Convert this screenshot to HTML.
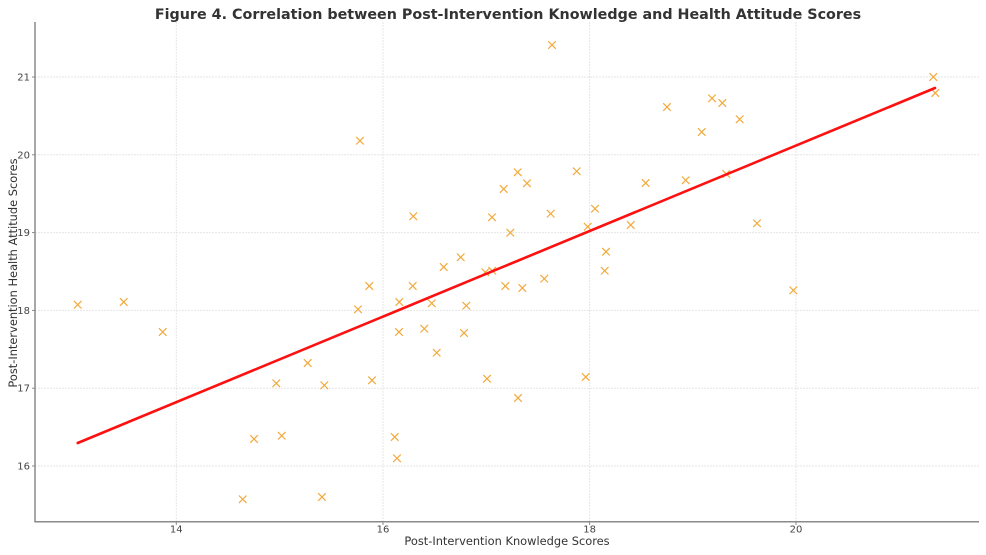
<!DOCTYPE html>
<html><head><meta charset="utf-8"><style>
html,body{margin:0;padding:0;background:#fff;}
svg{display:block;}
text{font-family:"DejaVu Sans","Liberation Sans",sans-serif;}
</style></head><body>
<svg width="986" height="555" viewBox="0 0 986 555" xmlns="http://www.w3.org/2000/svg">
<defs>
<path id="m" d="M-3.8 -3.8L3.8 3.8M-3.8 3.8L3.8 -3.8"/>
</defs>
<rect width="986" height="555" fill="#fff"/>
<g stroke="#e6e6e6" stroke-width="1" stroke-dasharray="2,1">
<line x1="176.3" y1="22" x2="176.3" y2="521"/>
<line x1="383" y1="22" x2="383" y2="521"/>
<line x1="589.6" y1="22" x2="589.6" y2="521"/>
<line x1="796" y1="22" x2="796" y2="521"/>
<line x1="35" y1="77" x2="979" y2="77"/>
<line x1="35" y1="154.8" x2="979" y2="154.8"/>
<line x1="35" y1="232.6" x2="979" y2="232.6"/>
<line x1="35" y1="310.4" x2="979" y2="310.4"/>
<line x1="35" y1="388.2" x2="979" y2="388.2"/>
<line x1="35" y1="466" x2="979" y2="466"/>
</g>
<g stroke="#f2a93b" stroke-width="1.2" fill="none">
<use href="#m" x="77.7" y="304.7"/>
<use href="#m" x="123.7" y="302"/>
<use href="#m" x="162.7" y="332"/>
<use href="#m" x="242.7" y="499.3"/>
<use href="#m" x="254" y="439"/>
<use href="#m" x="276.3" y="383.3"/>
<use href="#m" x="281.7" y="435.7"/>
<use href="#m" x="307.7" y="363"/>
<use href="#m" x="322" y="497"/>
<use href="#m" x="324.3" y="385.3"/>
<use href="#m" x="358" y="309.3"/>
<use href="#m" x="360" y="140.7"/>
<use href="#m" x="369.3" y="286"/>
<use href="#m" x="372" y="380.3"/>
<use href="#m" x="394.7" y="437"/>
<use href="#m" x="397" y="458.3"/>
<use href="#m" x="399" y="332"/>
<use href="#m" x="399.3" y="302"/>
<use href="#m" x="412.7" y="286"/>
<use href="#m" x="413.3" y="216.3"/>
<use href="#m" x="424.3" y="328.7"/>
<use href="#m" x="431.7" y="303.3"/>
<use href="#m" x="436.7" y="352.7"/>
<use href="#m" x="443.7" y="267"/>
<use href="#m" x="460.7" y="257.3"/>
<use href="#m" x="464" y="333"/>
<use href="#m" x="466.3" y="305.7"/>
<use href="#m" x="485.3" y="272.3"/>
<use href="#m" x="487" y="378.7"/>
<use href="#m" x="492.3" y="270.7"/>
<use href="#m" x="492" y="217.3"/>
<use href="#m" x="503.7" y="189"/>
<use href="#m" x="505.3" y="286"/>
<use href="#m" x="510.3" y="232.7"/>
<use href="#m" x="517.7" y="172.3"/>
<use href="#m" x="518" y="398"/>
<use href="#m" x="522.3" y="288"/>
<use href="#m" x="527" y="183.3"/>
<use href="#m" x="544.3" y="278.7"/>
<use href="#m" x="550.7" y="213.7"/>
<use href="#m" x="552" y="45"/>
<use href="#m" x="576.7" y="171.3"/>
<use href="#m" x="585.7" y="377"/>
<use href="#m" x="587.7" y="226.7"/>
<use href="#m" x="595" y="208.7"/>
<use href="#m" x="604.7" y="270.7"/>
<use href="#m" x="606" y="251.7"/>
<use href="#m" x="630.7" y="225"/>
<use href="#m" x="645.7" y="183"/>
<use href="#m" x="667" y="107"/>
<use href="#m" x="685.7" y="180.3"/>
<use href="#m" x="701.7" y="132"/>
<use href="#m" x="712" y="98.3"/>
<use href="#m" x="722.3" y="103"/>
<use href="#m" x="726.3" y="174"/>
<use href="#m" x="739.7" y="119.3"/>
<use href="#m" x="757" y="223.3"/>
<use href="#m" x="793.3" y="290.3"/>
<use href="#m" x="933.3" y="77"/>
<use href="#m" x="935.3" y="93"/>
</g>
<line x1="77.7" y1="443" x2="935" y2="88" stroke="#ff1010" stroke-width="2.6" stroke-linecap="round"/>
<g stroke="#8a8a8a" stroke-width="1.5">
<line x1="35" y1="22" x2="35" y2="521.8"/>
<line x1="34.3" y1="521.8" x2="979" y2="521.8"/>
</g>
<g stroke="#8a8a8a" stroke-width="1">
<line x1="176.3" y1="522" x2="176.3" y2="525"/>
<line x1="383" y1="522" x2="383" y2="525"/>
<line x1="589.6" y1="522" x2="589.6" y2="525"/>
<line x1="796" y1="522" x2="796" y2="525"/>
<line x1="32" y1="77" x2="35" y2="77"/>
<line x1="32" y1="154.8" x2="35" y2="154.8"/>
<line x1="32" y1="232.6" x2="35" y2="232.6"/>
<line x1="32" y1="310.4" x2="35" y2="310.4"/>
<line x1="32" y1="388.2" x2="35" y2="388.2"/>
<line x1="32" y1="466" x2="35" y2="466"/>
</g>
<g font-size="10" fill="#444" text-anchor="middle">
<text x="176.3" y="532.5">14</text>
<text x="383" y="532.5">16</text>
<text x="589.6" y="532.5">18</text>
<text x="796" y="532.5">20</text>
</g>
<g font-size="10" fill="#444" text-anchor="end">
<text x="30" y="80.5">21</text>
<text x="30" y="158.3">20</text>
<text x="30" y="236.1">19</text>
<text x="30" y="313.9">18</text>
<text x="30" y="391.7">17</text>
<text x="30" y="469.5">16</text>
</g>
<text x="507" y="545" font-size="11.4" fill="#333" text-anchor="middle">Post-Intervention Knowledge Scores</text>
<text transform="translate(17,273) rotate(-90)" font-size="11.4" fill="#333" text-anchor="middle">Post-Intervention Health Attitude Scores</text>
<text x="508" y="19" font-size="14.3" font-weight="bold" fill="#333" text-anchor="middle">Figure 4. Correlation between Post-Intervention Knowledge and Health Attitude Scores</text>
</svg>
</body></html>
